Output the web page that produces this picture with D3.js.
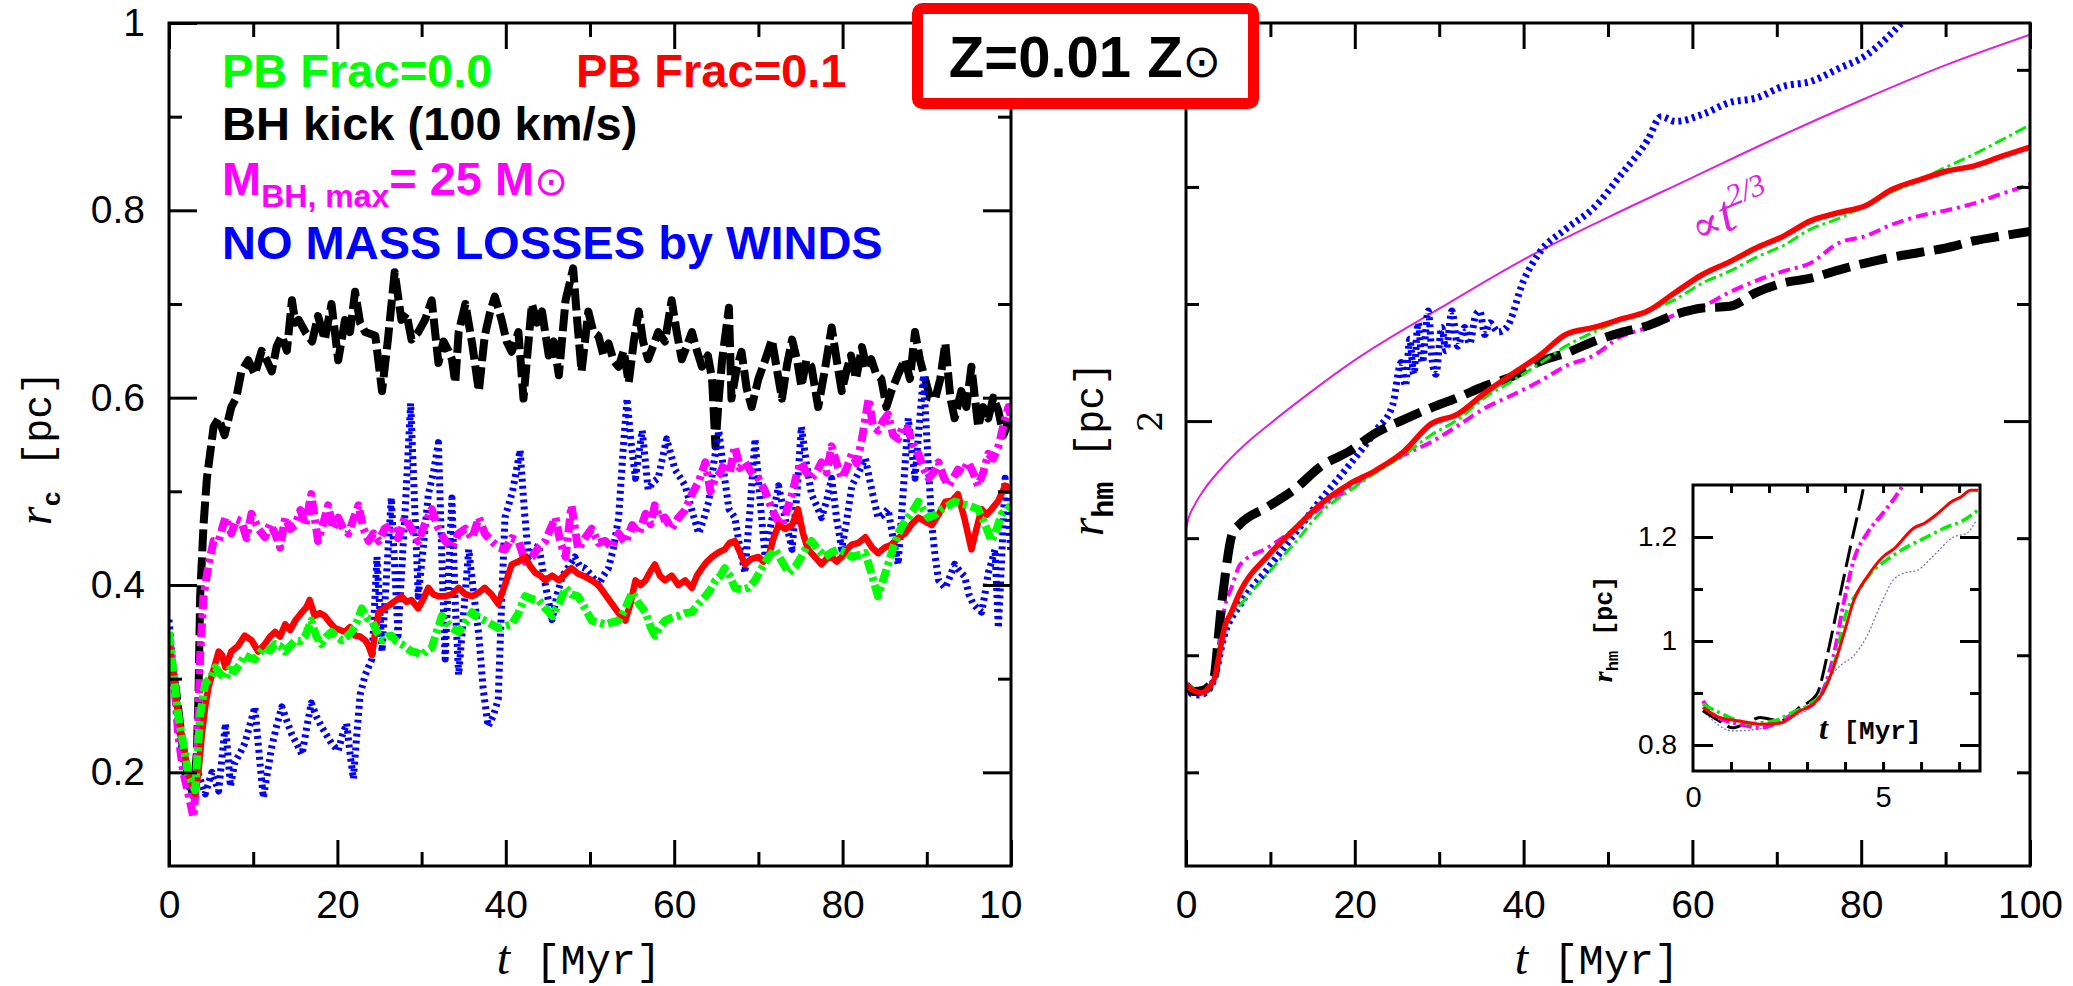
<!DOCTYPE html>
<html>
<head>
<meta charset="utf-8">
<script src="https://cdn.jsdelivr.net/npm/d3@7"></script>
<style>
html, body { margin: 0; padding: 0; background: #fff; }
svg { display: block; }
</style>
</head>
<body>
<svg id="chart" width="2073" height="986"></svg>
<script>
'use strict';

// ---- left panel: core radius r_c [pc] vs t [Myr] ----
var rcKick = [[0,0.33],[0.8,0.29],[1.6,0.23],[2.4,0.19],[2.9,0.175],[3.3,0.22],[3.5,0.28],[3.7,0.388],[4.1,0.464],[4.5,0.514],[5.3,0.569],[5.9,0.578],[6.6,0.56],[7.4,0.59],[8.0,0.60],[8.6,0.628],[9.4,0.64],[10.2,0.625],[11,0.65],[11.6,0.64],[12.2,0.628],[12.8,0.655],[13.4,0.666],[14,0.65],[14.6,0.704],[15,0.68],[15.4,0.683],[16.2,0.67],[17,0.66],[17.7,0.687],[18.5,0.662],[19.3,0.70],[20.1,0.64],[20.9,0.683],[21.5,0.67],[22.1,0.713],[22.7,0.68],[23.3,0.67],[24.5,0.666],[25.3,0.607],[26,0.662],[26.8,0.734],[27.6,0.683],[28.2,0.69],[28.8,0.662],[29.6,0.67],[30.4,0.683],[31.2,0.704],[32,0.637],[32.6,0.66],[33.2,0.65],[33.6,0.641],[34,0.616],[34.4,0.67],[35.2,0.70],[36,0.658],[36.8,0.607],[37.5,0.666],[38.1,0.69],[38.7,0.708],[39.5,0.683],[40.1,0.66],[40.7,0.649],[41.5,0.67],[42.1,0.599],[42.6,0.65],[43.1,0.70],[43.7,0.68],[44.3,0.692],[45.1,0.645],[45.7,0.66],[46.3,0.624],[47.1,0.704],[48,0.738],[48.5,0.68],[49,0.628],[49.8,0.692],[50.4,0.67],[51,0.666],[51.6,0.645],[52.2,0.658],[52.8,0.64],[53.4,0.633],[54,0.65],[54.6,0.616],[55.2,0.66],[55.8,0.692],[56.3,0.66],[56.9,0.641],[57.5,0.655],[58.1,0.67],[58.9,0.66],[59.7,0.704],[60.3,0.67],[60.9,0.641],[61.5,0.655],[62.1,0.67],[62.7,0.65],[63.3,0.633],[64,0.645],[64.5,0.62],[64.9,0.548],[65.3,0.60],[65.7,0.641],[66.5,0.696],[66.8,0.599],[67.4,0.63],[68,0.649],[68.6,0.61],[69.2,0.59],[70,0.62],[70.8,0.64],[71.6,0.662],[72.2,0.63],[72.8,0.599],[73.4,0.635],[74,0.662],[74.6,0.64],[75.1,0.612],[75.7,0.64],[76.3,0.633],[77.1,0.59],[77.9,0.63],[78.7,0.675],[79.3,0.64],[79.9,0.607],[80.5,0.63],[81,0.645],[81.6,0.62],[82.3,0.654],[82.9,0.63],[83.4,0.641],[84,0.625],[84.6,0.62],[85.2,0.59],[85.8,0.607],[86.6,0.625],[87.4,0.641],[88,0.62],[88.6,0.67],[89.2,0.64],[89.8,0.62],[90.4,0.60],[91,0.599],[91.6,0.62],[92.2,0.658],[92.8,0.60],[93.3,0.578],[94.1,0.607],[94.7,0.59],[95.3,0.633],[96.1,0.569],[96.7,0.59],[97.3,0.578],[97.9,0.60],[98.5,0.586],[99.1,0.56],[99.7,0.574],[100,0.58]];

var rcMbh = [[0,0.346],[0.6,0.3],[1.1,0.24],[1.7,0.2],[2.3,0.177],[2.9,0.152],[3.3,0.198],[3.7,0.324],[4.1,0.388],[4.7,0.422],[5.3,0.447],[5.9,0.447],[6.3,0.46],[6.7,0.472],[7.4,0.455],[8,0.47],[8.6,0.468],[9.2,0.45],[9.8,0.476],[10.6,0.46],[11.4,0.451],[12,0.465],[12.6,0.455],[13.2,0.44],[13.8,0.472],[14.4,0.46],[15,0.464],[15.6,0.48],[16.2,0.464],[16.9,0.497],[17.7,0.447],[18.3,0.465],[18.9,0.485],[19.5,0.46],[20.1,0.472],[20.7,0.46],[21.3,0.455],[21.9,0.47],[22.5,0.485],[23.1,0.46],[23.7,0.447],[24.3,0.455],[24.9,0.447],[25.6,0.46],[26.4,0.464],[27.2,0.45],[28,0.472],[28.8,0.46],[29.6,0.447],[30.4,0.465],[31.2,0.481],[32,0.46],[32.8,0.447],[33.6,0.44],[34.4,0.455],[35.2,0.46],[36,0.45],[36.8,0.472],[37.5,0.455],[38.3,0.447],[39.1,0.44],[39.9,0.438],[40.7,0.45],[41.5,0.447],[42.3,0.425],[43.1,0.43],[43.9,0.44],[44.7,0.447],[45.3,0.46],[45.9,0.472],[46.5,0.445],[47.1,0.43],[47.8,0.485],[48.6,0.438],[49.4,0.45],[50.2,0.46],[51,0.445],[51.8,0.447],[52.6,0.44],[53.4,0.455],[54.2,0.445],[55,0.464],[55.8,0.455],[56.6,0.476],[57.2,0.465],[57.7,0.485],[58.3,0.47],[58.9,0.472],[59.7,0.46],[60.5,0.472],[61.3,0.48],[62.1,0.497],[62.9,0.51],[63.7,0.531],[64.3,0.50],[64.9,0.514],[65.5,0.52],[66,0.531],[66.6,0.52],[67.2,0.548],[67.8,0.525],[68.4,0.531],[69.2,0.52],[70,0.514],[70.8,0.50],[71.6,0.481],[72.2,0.47],[72.8,0.464],[73.4,0.48],[74,0.497],[74.6,0.52],[75.1,0.531],[75.7,0.52],[76.3,0.514],[76.9,0.52],[77.5,0.531],[78.1,0.52],[78.7,0.548],[79.3,0.53],[79.9,0.514],[80.5,0.525],[81.1,0.54],[81.7,0.53],[82.3,0.556],[83.1,0.599],[83.6,0.57],[84.2,0.565],[84.8,0.575],[85.4,0.582],[86,0.56],[86.6,0.556],[87.2,0.57],[87.8,0.565],[88.4,0.55],[89,0.54],[89.6,0.525],[90.2,0.514],[90.8,0.52],[91.4,0.531],[92,0.515],[92.6,0.506],[93.2,0.515],[93.7,0.523],[94.3,0.52],[94.9,0.531],[95.5,0.52],[96.1,0.506],[96.7,0.52],[97.3,0.54],[97.9,0.535],[98.5,0.548],[99.1,0.57],[99.7,0.59],[100,0.58]];

var rcPb01 = [[0,0.337],[0.6,0.3],[1.1,0.261],[1.7,0.23],[2.3,0.198],[3.1,0.177],[3.5,0.2],[3.9,0.24],[4.3,0.27],[4.7,0.291],[5.3,0.31],[5.9,0.329],[6.3,0.325],[6.7,0.312],[7.4,0.329],[8.2,0.335],[9,0.346],[9.8,0.341],[10.6,0.329],[11.4,0.337],[12,0.345],[12.6,0.35],[13.2,0.345],[13.8,0.358],[14.4,0.352],[15,0.362],[15.8,0.371],[16.3,0.376],[16.7,0.384],[17.3,0.367],[17.9,0.37],[18.5,0.367],[19.1,0.36],[19.7,0.354],[20.3,0.352],[20.9,0.35],[21.5,0.355],[22.1,0.346],[22.7,0.345],[23.3,0.341],[23.7,0.335],[24.1,0.325],[24.5,0.35],[24.9,0.371],[25.6,0.375],[26.4,0.38],[27,0.384],[27.6,0.388],[28.2,0.382],[28.8,0.384],[29.6,0.375],[30.2,0.385],[30.8,0.397],[31.4,0.39],[32,0.388],[32.8,0.388],[33.6,0.39],[34.4,0.397],[35.2,0.39],[36,0.388],[36.8,0.392],[37.5,0.397],[38.3,0.39],[39.1,0.38],[39.9,0.40],[40.7,0.422],[41.5,0.425],[42.3,0.43],[42.9,0.42],[43.5,0.413],[44.1,0.41],[44.7,0.405],[45.5,0.41],[46.3,0.405],[47.1,0.412],[47.8,0.418],[48.6,0.412],[49.4,0.409],[50.2,0.405],[51,0.40],[51.8,0.39],[52.6,0.38],[53.4,0.37],[54.2,0.362],[54.8,0.38],[55.4,0.405],[56,0.40],[56.6,0.405],[57.2,0.415],[57.7,0.422],[58.3,0.41],[58.9,0.405],[59.7,0.41],[60.5,0.40],[61.3,0.405],[62.1,0.397],[62.7,0.41],[63.3,0.418],[63.9,0.425],[64.5,0.43],[65.3,0.435],[66,0.438],[66.6,0.445],[67.2,0.447],[67.8,0.435],[68.4,0.422],[69.2,0.428],[70,0.43],[70.6,0.425],[71.2,0.43],[71.8,0.45],[72.4,0.464],[73.2,0.46],[74,0.464],[74.7,0.481],[75.3,0.455],[75.9,0.438],[76.7,0.43],[77.5,0.422],[78.1,0.428],[78.7,0.43],[79.3,0.425],[79.9,0.43],[80.5,0.438],[81.1,0.443],[81.9,0.445],[82.7,0.451],[83.5,0.44],[84.2,0.434],[85,0.44],[85.8,0.443],[86.6,0.45],[87.4,0.455],[88.2,0.465],[89,0.472],[89.8,0.468],[90.6,0.464],[91.4,0.475],[92.2,0.489],[93,0.49],[93.7,0.497],[94.5,0.47],[95.3,0.438],[95.9,0.46],[96.5,0.481],[97.1,0.475],[97.7,0.481],[98.5,0.49],[99.3,0.506],[100,0.50]];

var rcPb00 = [[0,0.35],[0.6,0.3],[1.1,0.261],[1.7,0.23],[2.3,0.198],[3.1,0.181],[3.4,0.22],[3.7,0.261],[4.3,0.295],[4.9,0.30],[5.5,0.312],[6.1,0.305],[6.7,0.30],[7.2,0.31],[7.8,0.308],[8.4,0.315],[9,0.325],[9.6,0.322],[10.2,0.321],[10.8,0.328],[11.4,0.333],[12,0.33],[12.6,0.337],[13.2,0.335],[13.8,0.329],[14.4,0.335],[15,0.341],[15.6,0.34],[16.2,0.346],[16.9,0.362],[17.5,0.345],[18.1,0.337],[18.7,0.345],[19.3,0.35],[19.9,0.345],[20.5,0.341],[21.1,0.345],[21.7,0.35],[22.3,0.36],[22.9,0.375],[23.5,0.365],[24.1,0.362],[24.7,0.35],[25.3,0.341],[25.9,0.345],[26.4,0.346],[27,0.34],[27.6,0.337],[28.2,0.333],[28.8,0.329],[29.4,0.328],[30,0.325],[30.6,0.33],[31.2,0.333],[31.8,0.35],[32.4,0.367],[33,0.36],[33.6,0.354],[34.4,0.35],[35.2,0.36],[36,0.371],[36.8,0.365],[37.5,0.362],[38.3,0.358],[39.1,0.354],[39.9,0.356],[40.7,0.358],[41.5,0.37],[42.3,0.388],[43.1,0.385],[43.9,0.384],[44.7,0.375],[45.5,0.367],[46.3,0.38],[47.1,0.397],[47.8,0.39],[48.6,0.388],[49.4,0.375],[50.2,0.362],[51,0.36],[51.8,0.358],[52.6,0.36],[53.4,0.362],[54.2,0.375],[55,0.392],[55.8,0.38],[56.6,0.371],[57.2,0.355],[57.7,0.346],[58.3,0.355],[58.9,0.362],[59.7,0.365],[60.5,0.367],[61.3,0.37],[62.1,0.371],[62.9,0.38],[63.7,0.388],[64.3,0.395],[64.9,0.405],[65.5,0.41],[66,0.418],[66.6,0.41],[67.2,0.397],[68,0.395],[68.8,0.397],[69.6,0.405],[70.4,0.418],[71.2,0.43],[72,0.438],[72.8,0.425],[73.6,0.413],[74.4,0.42],[75.1,0.43],[75.7,0.44],[76.3,0.447],[77.1,0.438],[77.9,0.43],[78.7,0.435],[79.5,0.438],[80.3,0.435],[81.1,0.43],[81.9,0.432],[82.7,0.434],[83.5,0.41],[84.2,0.388],[84.8,0.405],[85.4,0.422],[86,0.44],[86.6,0.455],[87.2,0.465],[87.8,0.472],[88.4,0.48],[89,0.489],[89.6,0.48],[90.2,0.472],[91,0.475],[91.8,0.481],[92.6,0.485],[93.3,0.489],[94.1,0.487],[94.9,0.485],[95.5,0.483],[96.1,0.481],[96.9,0.465],[97.7,0.447],[98.3,0.46],[98.9,0.476],[99.5,0.48],[100,0.485]];

var rcNoWinds = [[0,0.363],[0.7,0.283],[1.3,0.24],[1.9,0.198],[2.7,0.177],[3.5,0.198],[4.3,0.177],[5.1,0.2],[5.9,0.18],[6.7,0.252],[7.3,0.185],[7.8,0.21],[8.4,0.22],[9,0.231],[9.6,0.25],[10.2,0.27],[10.7,0.22],[11.2,0.173],[11.7,0.2],[12.2,0.227],[12.8,0.25],[13.4,0.27],[14,0.255],[14.6,0.24],[15.2,0.23],[15.8,0.219],[16.4,0.25],[16.9,0.274],[17.5,0.26],[18.1,0.249],[18.7,0.24],[19.3,0.231],[20.1,0.223],[20.6,0.24],[21.1,0.252],[21.5,0.22],[21.9,0.193],[22.3,0.24],[22.7,0.283],[23.3,0.304],[24.1,0.321],[24.7,0.43],[25.3,0.329],[25.9,0.42],[26.4,0.493],[26.8,0.42],[27.2,0.346],[27.6,0.41],[28,0.472],[28.7,0.594],[29.2,0.48],[29.6,0.388],[30.2,0.44],[30.8,0.497],[31.4,0.52],[32,0.552],[32.4,0.43],[32.8,0.321],[33.2,0.41],[33.6,0.493],[34,0.38],[34.4,0.304],[35,0.37],[35.6,0.438],[36.2,0.39],[36.8,0.346],[37.3,0.29],[37.9,0.249],[38.5,0.26],[39.1,0.278],[39.5,0.38],[39.9,0.472],[40.8,0.50],[41.7,0.544],[42.2,0.48],[42.7,0.43],[43.3,0.435],[43.9,0.443],[44.7,0.40],[45.5,0.363],[46.1,0.39],[46.7,0.409],[47.5,0.42],[48.2,0.43],[48.8,0.42],[49.4,0.418],[50.2,0.41],[51,0.40],[51.6,0.41],[52.2,0.418],[52.8,0.44],[53.4,0.472],[53.9,0.54],[54.4,0.599],[54.9,0.55],[55.4,0.514],[55.8,0.54],[56.2,0.565],[56.6,0.53],[56.9,0.502],[57.5,0.51],[58.1,0.514],[58.6,0.535],[59.1,0.556],[59.6,0.54],[60.1,0.523],[60.7,0.515],[61.3,0.506],[62.1,0.48],[62.9,0.455],[63.5,0.47],[64.1,0.489],[64.7,0.53],[65.3,0.565],[65.9,0.52],[66.5,0.481],[67.2,0.472],[67.8,0.44],[68.4,0.413],[69,0.48],[69.6,0.556],[70.2,0.49],[70.8,0.43],[71.6,0.47],[72.4,0.506],[73.2,0.47],[74,0.438],[74.6,0.50],[75.1,0.569],[75.7,0.53],[76.3,0.497],[76.9,0.485],[77.5,0.472],[78.1,0.49],[78.7,0.514],[79.3,0.47],[79.9,0.438],[80.5,0.47],[81.1,0.506],[81.9,0.52],[82.7,0.535],[83.5,0.50],[84.2,0.472],[84.8,0.475],[85.4,0.481],[86,0.45],[86.6,0.422],[87.2,0.50],[87.8,0.578],[88.2,0.545],[88.6,0.514],[89.1,0.57],[89.6,0.624],[90.1,0.54],[90.6,0.464],[91,0.43],[91.4,0.405],[92.2,0.397],[92.8,0.41],[93.3,0.422],[93.9,0.415],[94.5,0.409],[95,0.39],[95.5,0.38],[96,0.375],[96.5,0.371],[96.9,0.39],[97.3,0.413],[97.7,0.425],[98.1,0.438],[98.5,0.354],[98.9,0.43],[99.3,0.514],[99.7,0.47],[100,0.434]];

// ---- right panel: half-mass radius r_hm [pc] vs t [Myr] ----
var rhmKick = [[0,0.87],[1,0.845],[2,0.85],[3,0.88],[3.3,0.9],[3.8,1.065],[4.1,1.18],[4.5,1.30],[5.5,1.52],[6.4,1.56],[9.7,1.634],[12.9,1.71],[16.1,1.81],[19.3,1.87],[22.5,1.95],[25.8,2.006],[29,2.056],[32.2,2.10],[35.4,2.15],[38.6,2.19],[41.9,2.254],[45,2.29],[48.3,2.34],[51.5,2.378],[54.7,2.407],[58,2.455],[61.2,2.483],[64.4,2.49],[67.6,2.55],[70.8,2.59],[74,2.61],[77.3,2.645],[80.5,2.675],[83.7,2.70],[86.9,2.72],[90.1,2.74],[93.4,2.77],[96.6,2.79],[100,2.81]];
var rhmPb01 = [[0,0.872],[0.7,0.853],[1.8,0.84],[2.8,0.866],[3.4,0.904],[4,1.014],[4.6,1.123],[5.3,1.178],[6.4,1.27],[9.7,1.425],[12.9,1.54],[16.1,1.65],[19.3,1.73],[22.5,1.79],[25.8,1.87],[29,1.987],[32.2,2.03],[35.4,2.12],[38.6,2.20],[41.9,2.28],[45,2.37],[48.3,2.40],[51.5,2.435],[54.7,2.47],[58,2.55],[61.2,2.626],[64.4,2.68],[67.6,2.74],[70.8,2.79],[74,2.855],[77.3,2.89],[80.5,2.92],[83.7,2.99],[86.9,3.03],[90.1,3.067],[93.4,3.09],[96.6,3.13],[100,3.17]];
var rhmPb00 = [[0,0.879],[0.7,0.862],[1.5,0.842],[2.6,0.862],[3.4,0.905],[4,1.05],[4.6,1.12],[5.6,1.181],[6.4,1.215],[9.7,1.35],[12.9,1.48],[16.1,1.615],[19.3,1.70],[22.5,1.78],[25.8,1.855],[29,1.94],[32.2,2.006],[35.4,2.10],[38.6,2.17],[41.9,2.245],[45,2.32],[48.3,2.38],[51.5,2.43],[54.7,2.47],[58,2.52],[61.2,2.59],[64.4,2.64],[67.6,2.70],[70.8,2.75],[74,2.82],[77.3,2.865],[80.5,2.92],[83.7,2.98],[86.9,3.03],[90.1,3.085],[93.4,3.14],[96.6,3.20],[100,3.265]];
var rhmMbh = [[0,0.885],[0.6,0.855],[1.8,0.833],[2.8,0.866],[3.4,0.908],[4,1.075],[4.6,1.207],[5.4,1.29],[6.4,1.386],[9.7,1.46],[12.9,1.54],[16.1,1.634],[19.3,1.71],[22.5,1.79],[25.8,1.855],[29,1.91],[32.2,1.98],[35.4,2.055],[38.6,2.11],[41.9,2.17],[45,2.235],[48.3,2.28],[51.5,2.36],[54.7,2.40],[58,2.455],[61.2,2.49],[64.4,2.55],[67.6,2.60],[70.8,2.64],[74,2.675],[77.3,2.76],[80.5,2.79],[83.7,2.84],[86.9,2.876],[90.1,2.90],[93.4,2.93],[96.6,2.97],[100,3.01]];
var rhmNoWinds = [[0,0.866],[1,0.83],[2,0.835],[3,0.87],[3.5,0.92],[4.5,1.08],[6.4,1.215],[9.7,1.37],[12.9,1.52],[16.1,1.67],[19.3,1.81],[22.5,1.96],[24.5,2.07],[25.5,2.25],[26,2.15],[26.5,2.35],[27,2.2],[27.5,2.42],[28,2.25],[28.7,2.47],[29.2,2.25],[29.6,2.2],[30.3,2.4],[30.8,2.3],[31.5,2.47],[32.2,2.32],[33,2.4],[33.6,2.33],[34.3,2.45],[34.8,2.47],[35.4,2.37],[36,2.42],[37,2.38],[38,2.40],[40,2.6],[41.9,2.72],[45,2.82],[48.3,2.91],[51.5,3.05],[54.7,3.20],[56.3,3.30],[58,3.28],[61.2,3.31],[64.4,3.36],[67.6,3.38],[70.8,3.43],[74,3.45],[77.3,3.505],[80.5,3.56],[83.7,3.66],[85.5,3.73]];
var rhmPowerLaw = [[0,1.54],[0.3,1.585],[1,1.64],[2,1.70],[4,1.79],[7,1.90],[10,1.99],[15,2.13],[20,2.26],[30,2.48],[40,2.69],[50,2.87],[60,3.04],[70,3.21],[80,3.37],[90,3.52],[100,3.65]];

// ---- inset: early r_hm ----
var inKick = [[0.26,0.866],[0.7,0.846],[1.05,0.833],[1.5,0.846],[1.76,0.853],[2.29,0.846],[2.8,0.872],[3.26,0.898],[3.53,0.972],[3.8,1.065],[4.14,1.181],[4.49,1.297],[4.6,1.34]];
var inPb01 = [[0.26,0.872],[0.7,0.853],[1.23,0.846],[1.76,0.84],[2.29,0.842],[2.82,0.866],[3.17,0.879],[3.44,0.904],[3.7,0.95],[3.97,1.014],[4.23,1.078],[4.58,1.123],[5.0,1.162],[5.3,1.178],[5.8,1.217],[6.1,1.227],[6.45,1.246],[6.8,1.268],[7.07,1.278],[7.3,1.29],[7.5,1.29]];
var inPb00 = [[0.26,0.879],[0.7,0.862],[1.5,0.842],[2.1,0.846],[2.6,0.862],[3.08,0.879],[3.44,0.905],[3.7,0.953],[4.05,1.059],[4.3,1.09],[4.67,1.13],[5.1,1.156],[5.63,1.181],[6.15,1.20],[6.7,1.22],[7.07,1.23],[7.5,1.252]];
var inMbh = [[0.26,0.885],[0.6,0.855],[1.23,0.84],[1.76,0.833],[2.29,0.846],[2.8,0.866],[3.17,0.879],[3.44,0.908],[3.7,0.972],[3.97,1.075],[4.23,1.156],[4.58,1.207],[5.0,1.246],[5.44,1.29],[5.6,1.31]];
var inNoWinds = [[0.26,0.866],[1.05,0.827],[1.9,0.833],[2.6,0.853],[3.17,0.879],[3.53,0.924],[3.88,0.953],[4.23,0.972],[4.58,1.01],[4.93,1.069],[5.3,1.12],[5.53,1.13],[5.9,1.136],[6.3,1.162],[6.85,1.20],[7.2,1.207],[7.46,1.233]];

// ---- ticks ----
var tMajor = [0, 20, 40, 60, 80, 100];
var tMinor = [10, 30, 50, 70, 90];
var rcMajor = [0.2, 0.4, 0.6, 0.8, 1];
var rcMinor = [0.3, 0.5, 0.7, 0.9];
var rhmMajor = [2];
var rhmMinor = [0.5, 1, 1.5, 2.5, 3, 3.5];
var inTMinor = [1, 2, 3, 4, 5, 6, 7];
var inTLabels = [0, 5];
var inRMajor = [0.8, 1, 1.2];
var inRMinor = [0.9, 1.1];

var SANS = 'Liberation Sans, Arial, sans-serif',
    MONO = 'Liberation Mono, Courier New, monospace',
    SERIF = 'Liberation Serif, Times New Roman, serif';

var svg = d3.select('#chart');

var L = { x0: 169, x1: 1011, y0: 23, y1: 866 },
    R = { x0: 1186, x1: 2030, y0: 23, y1: 866 },
    I = { x0: 1693, x1: 1980, y0: 485, y1: 771 };

var xL = d3.scaleLinear().domain([0, 100]).range([L.x0, L.x1]),
    yL = d3.scaleLinear().domain([0.1, 1]).range([L.y1, L.y0]),
    xR = d3.scaleLinear().domain([0, 100]).range([R.x0, R.x1]),
    yR = d3.scaleLinear().domain([0.1, 3.7]).range([R.y1, R.y0]),
    xI = d3.scaleLinear().domain([0, 7.55]).range([I.x0, I.x1]),
    yI = d3.scaleLinear().domain([0.75, 1.30]).range([I.y1, I.y0]);

var defs = svg.append('defs');
function clip( id, b ){
    defs.append('clipPath').attr('id', id)
        .append('rect').attr('x', b.x0).attr('y', b.y0)
        .attr('width', b.x1 - b.x0).attr('height', b.y1 - b.y0);
    return 'url(#' + id + ')';
}

function ticks( g, axis, values, size, fmt, fontSize, pad ){
    g.call( axis.tickValues(values).tickSizeInner(-size).tickSizeOuter(0)
        .tickPadding(pad || 0).tickFormat(fmt || '') );
    g.select('.domain').remove();
    g.selectAll('line').attr('stroke', '#000').attr('stroke-width', 3);
    g.attr('font-family', SANS).attr('font-size', fontSize || 39);
    g.selectAll('text').attr('fill', '#000');
    return g;
}

function frameAxes( b, x, y, opt ){
    var g = svg.append('g');
    ticks( g.append('g').attr('transform', 'translate(0,' + b.y1 + ')'), d3.axisBottom(x), opt.xMinor, opt.xMinorLen );
    ticks( g.append('g').attr('transform', 'translate(0,' + b.y0 + ')'), d3.axisTop(x), opt.xMinor, opt.xMinorLen );
    ticks( g.append('g').attr('transform', 'translate(0,' + b.y0 + ')'), d3.axisTop(x), opt.xMajor, opt.xMajorLen );
    var xb = ticks( g.append('g').attr('transform', 'translate(0,' + b.y1 + ')'), d3.axisBottom(x),
        opt.xMajor, opt.xMajorLen, opt.xFmt, opt.fs, opt.xPad );
    ticks( g.append('g').attr('transform', 'translate(' + b.x0 + ',0)'), d3.axisLeft(y), opt.yMinor, opt.yMinorLen );
    ticks( g.append('g').attr('transform', 'translate(' + b.x1 + ',0)'), d3.axisRight(y), opt.yMinor, opt.yMinorLen );
    ticks( g.append('g').attr('transform', 'translate(' + b.x1 + ',0)'), d3.axisRight(y), opt.yMajor, opt.yMajorLen );
    ticks( g.append('g').attr('transform', 'translate(' + b.x0 + ',0)'), d3.axisLeft(y),
        opt.yMajor, opt.yMajorLen, opt.yFmt, opt.fs, opt.yPad );
    g.append('rect').attr('x', b.x0).attr('y', b.y0)
        .attr('width', b.x1 - b.x0).attr('height', b.y1 - b.y0)
        .attr('fill', 'none').attr('stroke', '#000').attr('stroke-width', 3);
    return xb;
}

function draw( parent, data, x, y, style, curve ){
    var line = d3.line().x(function( d ){ return x(d[0]); })
        .y(function( d ){ return y(d[1]); })
        .curve( curve || d3.curveLinear );
    parent.append('path').datum(data).attr('d', line)
        .attr('fill', 'none').attr('stroke', style.c)
        .attr('stroke-width', style.w)
        .attr('stroke-dasharray', style.dash || null)
        .attr('stroke-linejoin', 'round');
}

var fmtNum = function( d ){ return String(d); };

// ---------- left panel ----------
var gL = svg.append('g').attr('clip-path', clip('clipL', L));
draw( gL, rcKick, xL, yL, { c: '#000', w: 8, dash: '22,6' } );
draw( gL, rcNoWinds, xL, yL, { c: '#0000ff', w: 7, dash: '3,4' } );
draw( gL, rcMbh, xL, yL, { c: '#ff00ff', w: 8, dash: '14,5,4,5' } );
draw( gL, rcPb01, xL, yL, { c: '#ff0000', w: 6.5 } );
draw( gL, rcPb00, xL, yL, { c: '#00ff00', w: 8, dash: '14,4,4,4' } );

var xbL = frameAxes( L, xL, yL, {
    xMajor: tMajor, xMinor: tMinor, xMajorLen: 26, xMinorLen: 14, xFmt: fmtNum, xPad: 24,
    yMajor: rcMajor, yMinor: rcMinor, yMajorLen: 28, yMinorLen: 13, yFmt: fmtNum, yPad: 24, fs: 39
});
// the "100" of the left panel is cut by the right panel in the original
defs.append('clipPath').attr('id', 'clipLx')
    .append('rect').attr('x', 0).attr('y', -100).attr('width', 1023).attr('height', 200);
xbL.attr('clip-path', 'url(#clipLx)');

// ---------- right panel ----------
var gR = svg.append('g').attr('clip-path', clip('clipR', R));
draw( gR, rhmPowerLaw, xR, yR, { c: '#e020e0', w: 2 }, d3.curveMonotoneX );
draw( gR, rhmNoWinds, xR, yR, { c: '#0000ff', w: 7, dash: '3,4' }, d3.curveMonotoneX );
draw( gR, rhmMbh, xR, yR, { c: '#ff00ff', w: 4, dash: '12,5,3,5' }, d3.curveMonotoneX );
draw( gR, rhmKick, xR, yR, { c: '#000', w: 9, dash: '28,10' }, d3.curveMonotoneX );
draw( gR, rhmPb00, xR, yR, { c: '#00ee00', w: 3, dash: '12,4,3,4' }, d3.curveMonotoneX );
draw( gR, rhmPb01, xR, yR, { c: '#ff0000', w: 5.5 }, d3.curveMonotoneX );

frameAxes( R, xR, yR, {
    xMajor: tMajor, xMinor: tMinor, xMajorLen: 26, xMinorLen: 14, xFmt: fmtNum, xPad: 24,
    yMajor: rhmMajor, yMinor: rhmMinor, yMajorLen: 26, yMinorLen: 13, fs: 39
});
// rotated "2" label on the r_hm axis
svg.append('text').attr('transform', 'translate(1162,' + yR(2) + ') rotate(-90)')
    .attr('text-anchor', 'middle').attr('font-family', 'DejaVu Serif, serif')
    .attr('font-size', 34).text('2');

// power law label, sitting just below the t^(2/3) curve
var pl = svg.append('text').attr('transform', 'translate(1698,244) rotate(-22)')
    .attr('fill', '#e020e0').attr('font-style', 'italic');
pl.append('tspan').attr('font-family', 'DejaVu Serif, serif').attr('font-size', 44).text('\u221D');
pl.append('tspan').attr('font-family', SERIF).attr('font-size', 52).text('t');
pl.append('tspan').attr('font-family', SERIF).attr('font-size', 31).attr('dy', -22).text('2/3');

// ---------- inset ----------
svg.append('rect').attr('x', I.x0).attr('y', I.y0)
    .attr('width', I.x1 - I.x0).attr('height', I.y1 - I.y0).attr('fill', '#fff');
var gI = svg.append('g').attr('clip-path', clip('clipI', I));
draw( gI, inNoWinds, xI, yI, { c: '#6b6bc8', w: 1.2, dash: '2,2' }, d3.curveMonotoneX );
draw( gI, inKick, xI, yI, { c: '#000', w: 3, dash: '22,7' }, d3.curveMonotoneX );
draw( gI, inMbh, xI, yI, { c: '#ff00ff', w: 4, dash: '12,4,3,4' }, d3.curveMonotoneX );
draw( gI, inPb00, xI, yI, { c: '#00ee00', w: 3.5, dash: '12,4,3,4' }, d3.curveMonotoneX );
draw( gI, inPb01, xI, yI, { c: '#ff0000', w: 3 }, d3.curveMonotoneX );

var gIa = svg.append('g');
ticks( gIa.append('g').attr('transform', 'translate(0,' + I.y1 + ')'), d3.axisBottom(xI), inTMinor, 9 );
ticks( gIa.append('g').attr('transform', 'translate(0,' + I.y0 + ')'), d3.axisTop(xI), inTMinor, 8 );
ticks( gIa.append('g').attr('transform', 'translate(0,' + I.y1 + ')'), d3.axisBottom(xI), inTLabels, 0, fmtNum, 29, 15 );
ticks( gIa.append('g').attr('transform', 'translate(' + I.x0 + ',0)'), d3.axisLeft(yI), inRMinor, 10 );
ticks( gIa.append('g').attr('transform', 'translate(' + I.x1 + ',0)'), d3.axisRight(yI), inRMinor, 10 );
ticks( gIa.append('g').attr('transform', 'translate(' + I.x1 + ',0)'), d3.axisRight(yI), inRMajor, 20 );
ticks( gIa.append('g').attr('transform', 'translate(' + I.x0 + ',0)'), d3.axisLeft(yI), inRMajor, 20, fmtNum, 28, 16 );
gIa.append('rect').attr('x', I.x0).attr('y', I.y0)
    .attr('width', I.x1 - I.x0).attr('height', I.y1 - I.y0)
    .attr('fill', 'none').attr('stroke', '#000').attr('stroke-width', 3);

// ---------- axis titles ----------
function timeLabel( x, y, big ){
    var t = svg.append('text').attr('x', x).attr('y', y).attr('text-anchor', big ? 'middle' : 'start')
        .attr('font-weight', big ? 'normal' : 'bold');
    t.append('tspan').attr('font-family', SERIF).attr('font-style', 'italic')
        .attr('font-size', big ? 48 : 32).text('t');
    t.append('tspan').attr('font-family', MONO).attr('font-size', big ? 42 : 26)
        .attr('xml:space', 'preserve').text(' [Myr]');
}
timeLabel( 579, 974, true );
timeLabel( 1597, 974, true );
timeLabel( 1819, 739, false );

function radiusLabel( x, y, sub, sizes, bold ){
    var t = svg.append('text').attr('transform', 'translate(' + x + ',' + y + ') rotate(-90)')
        .attr('text-anchor', 'middle').attr('font-weight', bold ? 'bold' : 'normal');
    t.append('tspan').attr('font-family', SERIF).attr('font-style', 'italic')
        .attr('font-size', sizes[0]).text('r');
    t.append('tspan').attr('font-family', MONO).attr('font-weight', 'bold')
        .attr('font-size', sizes[1]).attr('dy', sizes[3]).text(sub);
    t.append('tspan').attr('font-family', MONO).attr('font-size', sizes[2])
        .attr('dy', -sizes[3]).attr('xml:space', 'preserve').text(' [pc]');
}
radiusLabel( 51, 448, 'c', [48, 26, 40, 9], false );
radiusLabel( 1103, 449, 'hm', [48, 30, 40, 10], false );
radiusLabel( 1612, 629, 'hm', [28, 17, 25, 6], true );

// ---------- legend ----------
function legend( x, y, color, txt ){
    return svg.append('text').attr('x', x).attr('y', y).attr('fill', color)
        .attr('font-family', SANS).attr('font-weight', 'bold').attr('font-size', 47).text(txt);
}
legend( 222, 87, '#00ff00', 'PB Frac=0.0' );
legend( 576, 87, '#ff0000', 'PB Frac=0.1' );
legend( 222, 140, '#000000', 'BH kick (100 km/s)' );
var lm = legend( 222, 195, '#ff00ff', 'M' );
lm.append('tspan').attr('font-size', 32).attr('dy', 12).text('BH, max');
lm.append('tspan').attr('dy', -12).text('= 25 M');
lm.append('tspan').attr('font-family', 'DejaVu Sans, sans-serif').attr('font-weight', 'normal')
    .attr('font-size', 40).text('\u2299');
legend( 222, 259, '#0000ff', 'NO MASS LOSSES by WINDS' );

// ---------- metallicity box ----------
svg.append('rect').attr('x', 917.5).attr('y', 8.5).attr('width', 336).attr('height', 95)
    .attr('rx', 5).attr('fill', '#fff').attr('stroke', '#ff0000').attr('stroke-width', 11);
var zt = svg.append('text').attr('x', 1085).attr('y', 77).attr('text-anchor', 'middle')
    .attr('font-family', SANS).attr('font-weight', 'bold').attr('font-size', 58).text('Z=0.01 Z');
zt.append('tspan').attr('font-family', 'DejaVu Sans, sans-serif').attr('font-weight', 'normal')
    .attr('font-size', 46).text('\u2299');
</script>
</body>
</html>
